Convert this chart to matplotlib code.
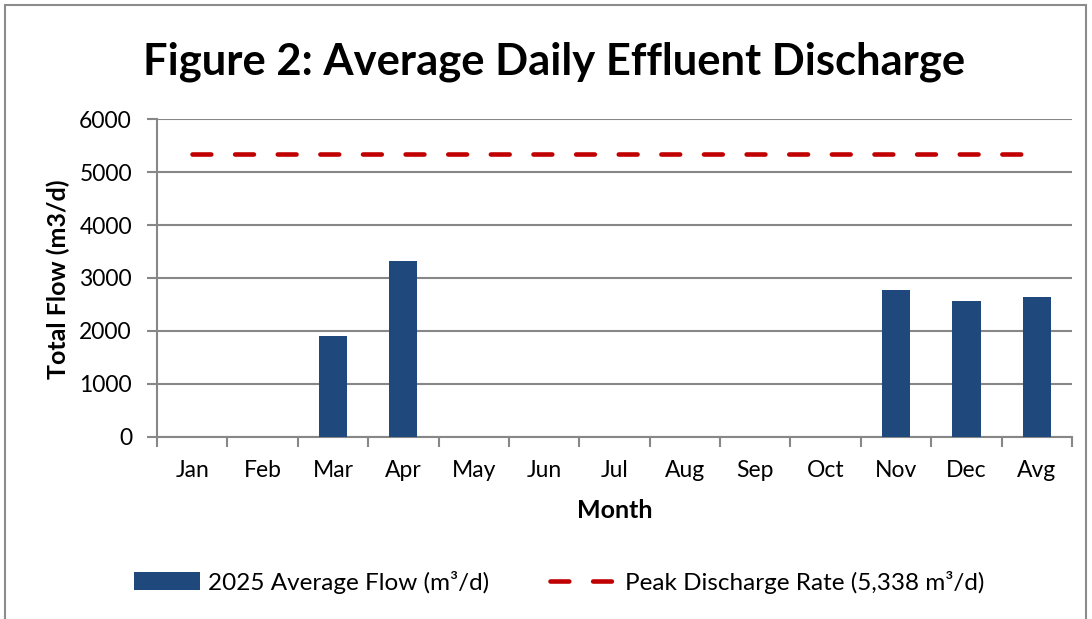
import matplotlib.pyplot as plt
from matplotlib.patches import Rectangle
import numpy as np

plt.rcParams["font.family"] = ["Lato", "DejaVu Sans"]

# data
months = ["Jan", "Feb", "Mar", "Apr", "May", "Jun", "Jul",
          "Aug", "Sep", "Oct", "Nov", "Dec", "Avg"]
avg_flow = [0, 0, 1910, 3315, 0, 0, 0, 0, 0, 0, 2777, 2568, 2643]
peak_rate = 5338
y_ticks = [0, 1000, 2000, 3000, 4000, 5000, 6000]

bar_color = "#1F497D"
peak_color = "#C00000"
grid_color = "#878787"

fig = plt.figure(figsize=(10.92, 6.19), dpi=100)
ax = fig.add_axes([157 / 1092, 1 - 436.5 / 619, 915 / 1092, 317.2 / 619])

x = np.arange(len(months))
bars = ax.bar(x, avg_flow, width=0.4, color=bar_color, zorder=3,
              label="2025 Average Flow (m³/d)")
peak, = ax.plot(x, [peak_rate] * len(months), color=peak_color, lw=3.3,
                dashes=(4.1, 5.2), dash_capstyle="round", zorder=4,
                label="Peak Discharge Rate (5,338 m³/d)")

ax.set_xlim(-0.5, len(months) - 0.5)
ax.set_ylim(0, 6000)
ax.set_yticks(y_ticks)
ax.yaxis.grid(True, color=grid_color, lw=1.5, zorder=0)

# labels at category centres, tick marks at the boundaries
ax.set_xticks(x)
ax.set_xticklabels(months, fontsize=16.5)
ax.set_xticks(np.arange(-0.5, len(months)), minor=True)
ax.tick_params(axis="x", which="major", length=0, pad=17)
ax.tick_params(axis="x", which="minor", length=7, width=1.5, color=grid_color)
ax.tick_params(axis="y", length=7, width=1.5, color=grid_color, pad=11,
               labelsize=16.5)

for side in ["top", "right"]:
    ax.spines[side].set_visible(False)
for side in ["left", "bottom"]:
    ax.spines[side].set_color(grid_color)
    ax.spines[side].set_linewidth(1.5)

fig.text(554 / 1092, 1 - 62 / 619, "Figure 2: Average Daily Effluent Discharge",
         ha="center", va="center", fontsize=31.3, fontweight="bold")
fig.text(58 / 1092, 1 - 279 / 619, "Total Flow (m3/d)", rotation=90,
         ha="center", va="center", fontsize=18, fontweight="bold")
fig.text(615 / 1092, 1 - 511 / 619, "Month", ha="center", va="center",
         fontsize=18, fontweight="bold")

fig.legend(handles=[bars, peak], loc="center",
           bbox_to_anchor=(559 / 1092, 1 - 582 / 619), ncol=2,
           frameon=False, fontsize=17.5, handlelength=2.75, handleheight=0.8,
           columnspacing=2.5, handletextpad=0.33)

# outer chart border
fig.patches.append(Rectangle((5 / 1092, -0.1), 1081 / 1092, 1.1 - 5 / 619,
                             transform=fig.transFigure, fill=False,
                             edgecolor="#8c8c8c", lw=1.5))

fig.savefig("out.png", dpi=100)
